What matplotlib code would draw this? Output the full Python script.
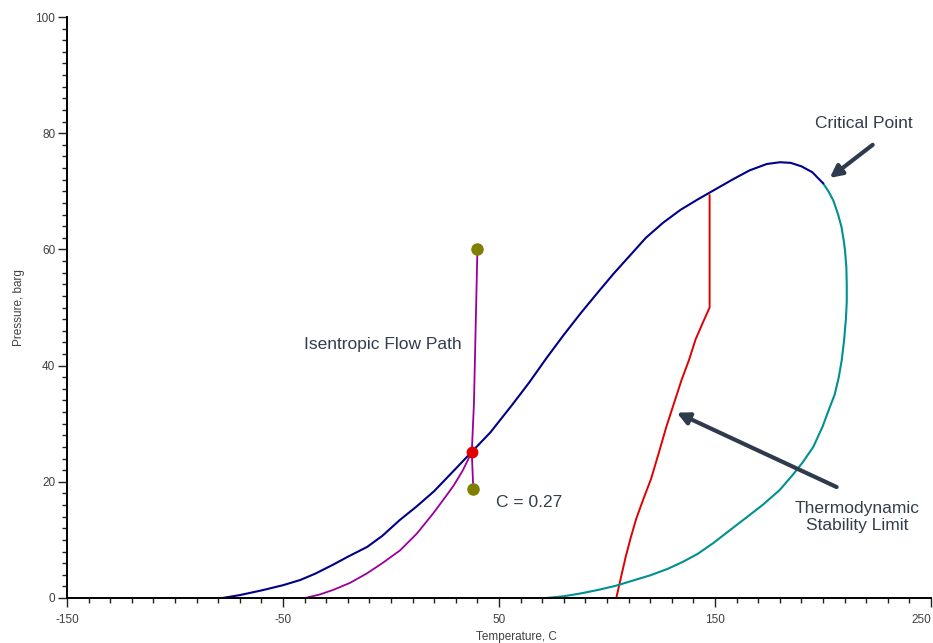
import matplotlib.pyplot as plt
from matplotlib.ticker import MultipleLocator

plt.rcParams['font.family'] = ['Liberation Sans', 'DejaVu Sans']
plt.rcParams['axes.unicode_minus'] = False

# phase envelope, bubble side up to the critical point (T in C, P in barg)
bubble_t = [-78, -70, -60, -50, -42, -35, -27, -20, -11, -4, 4, 12, 20, 28,
            37, 46, 56, 64, 72, 80, 88, 96, 103, 111, 118, 126, 134, 142,
            150, 158, 166, 174, 180, 185, 190, 195, 200]
bubble_p = [0, 0.5, 1.3, 2.2, 3.1, 4.2, 5.7, 7.1, 8.8, 10.7, 13.4, 15.8,
            18.4, 21.5, 25.0, 28.5, 33.2, 37.1, 41.3, 45.3, 49.1, 52.7, 55.8,
            59.1, 62.0, 64.6, 66.8, 68.6, 70.3, 72.0, 73.6, 74.7, 75.0, 74.9,
            74.3, 73.3, 71.4]

# dew side, from the critical point back down to zero
dew_t = [200, 202.5, 204.8, 207, 208.6, 209.6, 210.2, 210.8, 211, 211,
         210.6, 209.8, 208.7, 207.3, 205.4, 203.2, 199.8, 195.5, 190.5, 186,
         180, 172, 164.7, 157, 149, 142, 135, 128, 120, 112, 104, 96, 88, 80,
         72]
dew_p = [71.4, 70, 68.4, 66, 63.8, 61.5, 59.8, 57, 54, 51,
         48, 44.5, 41, 38, 35, 32.9, 29.5, 26, 23.3, 21.2,
         18.6, 16, 13.9, 11.7, 9.4, 7.6, 6.2, 5.0, 3.9, 3.0, 2.1, 1.4, 0.8,
         0.3, 0]

# stability limit
limit_t = [104.3, 106.5, 108.6, 111, 113.5, 117, 120.4, 124, 127.5, 131,
           134.5, 138, 141, 144.5, 147.5, 147.5]
limit_p = [0, 3.6, 7, 10.4, 13.6, 17.2, 20.5, 25, 29.5, 33.5,
           37.5, 41, 44.5, 47.5, 50, 69.3]

# isentropic flow path: expansion curve and vertical leg
flow_t = [-39.8, -33, -26.7, -19, -11.3, -4, 4.2, 12, 19.6, 25, 28.9, 33,
          37.4]
flow_p = [0, 0.6, 1.4, 2.6, 4.2, 6.0, 8.2, 11.1, 14.6, 17.3, 19.3, 21.8,
          25.1]
leg_t = [38.1, 37.4, 38.4, 39.4, 40.0]
leg_p = [18.7, 25.1, 33.5, 50.0, 60.0]

# end states and the intersection with the envelope
end_t = [40.0, 38.1]
end_p = [60.0, 18.7]
cross_t = 37.4
cross_p = 25.1

x_ticks = [-150, -50, 50, 150, 250]

fig = plt.figure(figsize=(9.33, 6.43), dpi=100)
ax = fig.add_axes([67 / 933, 45 / 643, 864 / 933, 581 / 643])

ax.plot(flow_t, flow_p, color='#990099', lw=1.3)
ax.plot(leg_t, leg_p, color='#990099', lw=1.3)
ax.plot(limit_t, limit_p, color='#e00000', lw=1.4)
ax.plot(dew_t, dew_p, color='#009090', lw=1.5)
ax.plot(bubble_t, bubble_p, color='#000088', lw=1.5)
ax.plot(end_t, end_p, 'o', color='#808000', ms=8, zorder=5)
ax.plot(cross_t, cross_p, 'o', color='#e00000', ms=7.5, zorder=6)

text_color = '#333d4d'
ax.text(-3.9, 43.6, 'Isentropic Flow Path', fontsize=12.5, color=text_color,
        ha='center', va='center')
ax.text(64, 16.4, 'C = 0.27', fontsize=12.5, color=text_color,
        ha='center', va='center')
ax.text(218.7, 81.6, 'Critical Point', fontsize=12.5, color=text_color,
        ha='center', va='center')
ax.text(215.6, 14.0, 'Thermodynamic\nStability Limit', fontsize=12.5,
        color=text_color, ha='center', va='center', linespacing=1.15)

arrow = dict(arrowstyle='-|>,head_length=0.6,head_width=0.3', lw=3,
             color='#2f3b4c', shrinkA=0, shrinkB=0, mutation_scale=12)
ax.annotate('', xy=(203.1, 72.3), xytext=(223, 78.0), arrowprops=arrow)
ax.annotate('', xy=(132.3, 31.9), xytext=(206.3, 19.1), arrowprops=arrow)

ax.set_xlim(-150, 250)
ax.set_ylim(0, 100)
ax.set_xticks(x_ticks)
ax.xaxis.set_minor_locator(MultipleLocator(10))
ax.yaxis.set_major_locator(MultipleLocator(20))
ax.yaxis.set_minor_locator(MultipleLocator(2))

for side in ['top', 'right']:
    ax.spines[side].set_visible(False)
for side in ['left', 'bottom']:
    ax.spines[side].set_linewidth(1.4)

ax.tick_params(which='major', length=6.5, width=1, color='#222222',
               labelsize=8.5, labelcolor='#404040')
ax.tick_params(which='minor', length=3.5, width=1, color='#222222')
ax.tick_params(axis='y', pad=2)
ax.tick_params(axis='x', pad=5)

# the last label sits at the right edge, keep it inside the figure
ax.get_xticklabels()[-1].set_horizontalalignment('right')

ax.set_xlabel('Temperature, C', fontsize=8.5, color='#404040')
ax.set_ylabel('Pressure, barg', fontsize=8.5, color='#404040')
ax.xaxis.set_label_coords(0.52, -0.057)
ax.yaxis.set_label_coords(-0.0486, 0.5)

plt.savefig('out.png', dpi=100)
